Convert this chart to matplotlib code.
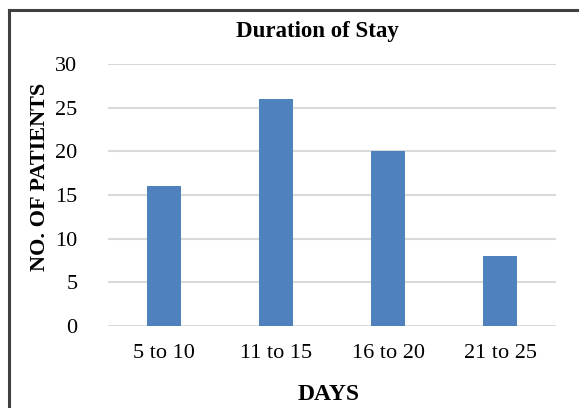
import matplotlib.pyplot as plt
from matplotlib.lines import Line2D

categories = ["5 to 10", "11 to 15", "16 to 20", "21 to 25"]
patients = [16, 26, 20, 8]
y_ticks = [0, 5, 10, 15, 20, 25, 30]

plt.rcParams['font.family'] = ['Liberation Serif', 'DejaVu Serif']

fig = plt.figure(figsize=(5.79, 4.08), dpi=100)
ax = fig.add_axes([108 / 579, 82 / 408, 448 / 579, 262 / 408])

x = range(len(categories))
ax.bar(x, patients, width=0.31, color='#4f81bd', zorder=3)

ax.set_xlim(-0.5, len(categories) - 0.5)
ax.set_ylim(0, 30)
ax.set_yticks(y_ticks)
ax.set_xticks(list(x))
ax.set_xticklabels(categories)
ax.yaxis.grid(True, color='#d9d9d9', linewidth=1.5, zorder=0)
ax.set_axisbelow(True)
for s in ax.spines.values():
    s.set_visible(False)
ax.tick_params(axis='both', length=0, labelsize=16, colors='#000000')
ax.tick_params(axis='y', pad=22)
ax.tick_params(axis='x', pad=13)

fig.text(317 / 579, 1 - 31 / 408, "Duration of Stay", ha='center', va='center',
         fontsize=16.5, fontweight='bold')
fig.text(40 / 579, 1 - 177 / 408, "NO. OF PATIENTS", ha='center', va='center',
         rotation=90, fontsize=16, fontweight='bold')
fig.text(329 / 579, 1 - 395 / 408, "DAYS", ha='center', va='center',
         fontsize=17, fontweight='bold')

# frame: top and left edges only
top_y = 1 - 10 / 408
left_x = 8.5 / 579
fig.add_artist(Line2D([left_x, 1.0], [top_y, top_y], transform=fig.transFigure,
                      color='#404040', linewidth=2.2, solid_capstyle='projecting'))
fig.add_artist(Line2D([left_x, left_x], [0.0, top_y], transform=fig.transFigure,
                      color='#404040', linewidth=2.2, solid_capstyle='projecting'))

fig.savefig("out.png", dpi=100)
